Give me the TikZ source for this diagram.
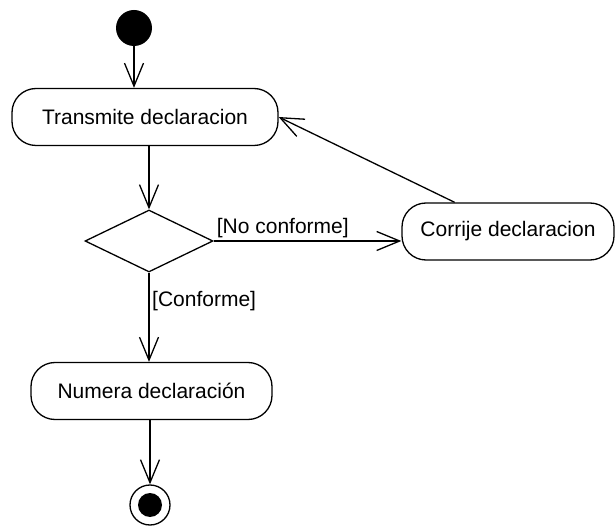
\documentclass[tikz,border=0pt]{standalone}
\usepackage{fontspec}
\setmainfont{Liberation Sans}
\usetikzlibrary{calc,positioning,shapes.geometric,arrows.meta}

\begin{document}
\begin{tikzpicture}[
    x=1pt, y=-1pt,
    font=\fontsize{21}{25}\selectfont,
    base/.style={draw=black, line width=1.3pt},
    action/.style={base, rectangle, rounded corners=24pt, minimum height=57pt, inner sep=0pt},
    decide/.style={base, diamond, minimum width=128pt, minimum height=62pt, inner sep=0pt},
    initial/.style={circle, fill=black, minimum size=36pt, inner sep=0pt},
    final/.style={base, circle, minimum size=40pt, inner sep=0pt,
                  path picture={\fill[black] (path picture bounding box.center) circle (12pt);}},
    guard/.style={inner sep=0pt, anchor=base west},
    flow/.style={black, line width=1.3pt, -{Straight Barb[length=23pt, width=19pt, line width=1.3pt]}}
  ]
  \useasboundingbox (0,0) rectangle (616,529);

  \node (start)      [initial]           at (134,28)    {};

  \node (transmite)  [action, minimum width=266pt] at (145,117)  {Transmite declaracion};

  \node (decision)   [decide]            at (149,241)   {};

  \node (corrije)    [action, minimum width=212pt] at (508,231.5) {Corrije declaracion};

  \node (numera)     [action, minimum width=241pt] at (151.5,391) {Numera declaración};

  \node (fin)        [final]             at (150,505)   {};

  \node (noconf)     [guard] at ($(decision.east)+(3,-7)$)   {[No conforme]};
  \node (conf)       [guard] at ($(decision.south)+(3,34)$)  {[Conforme]};

  \coordinate (back) at ($(corrije.north)!0.5!(corrije.north west)$);

  \draw[flow]  (start)            --  (start |- transmite.north);
  \draw[flow]  (decision |- transmite.south) -- (decision.north);
  \draw[flow]  (decision.east)    --  (decision.east -| corrije.west);
  \draw[flow]  (back)             --  (transmite.east);
  \draw[flow]  (decision.south)   --  (decision |- numera.north);
  \draw[flow]  (fin |- numera.south) -- (fin.north);
\end{tikzpicture}
\end{document}
